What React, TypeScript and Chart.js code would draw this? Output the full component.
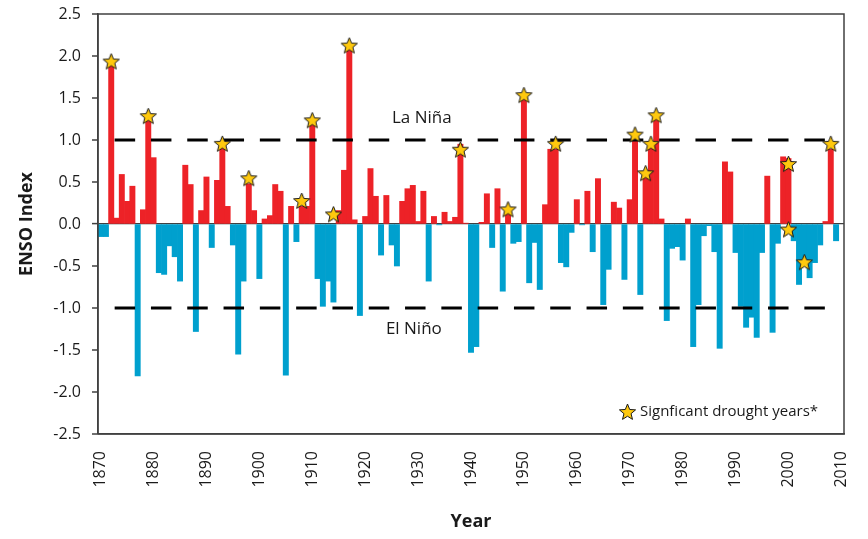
import React, { useEffect, useRef } from "react";
import { Chart, registerables } from "chart.js";

Chart.register(...registerables);

// ---- Data ----
const firstYear = 1870;
const lastYear = 2010;
const years: string[] = Array.from({ length: lastYear - firstYear + 1 }, (_, i) => String(firstYear + i));
const decadeLabels = ["1870", "1880", "1890", "1900", "1910", "1920", "1930", "1940", "1950", "1960", "1970", "1980", "1990", "2000", "2010"];

// ENSO index, 1870 .. 2009
const ensoIndex: number[] = [
  -0.15, -0.15, 1.9, 0.07, 0.59, 0.27, 0.45, -1.81, 0.17, 1.24,
  0.79, -0.58, -0.6, -0.26, -0.39, -0.68, 0.7, 0.47, -1.28, 0.16,
  0.56, -0.28, 0.52, 0.93, 0.21, -0.25, -1.55, -0.68, 0.48, 0.16,
  -0.65, 0.06, 0.1, 0.47, 0.39, -1.8, 0.21, -0.21, 0.21, 0.21,
  1.19, -0.65, -0.98, -0.68, -0.93, 0.16, 0.64, 2.09, 0.05, -1.09,
  0.09, 0.66, 0.33, -0.37, 0.34, -0.25, -0.5, 0.27, 0.42, 0.46,
  0.03, 0.39, -0.68, 0.09, -0.01, 0.14, 0.03, 0.08, 0.95, 0.01,
  -1.53, -1.46, 0.02, 0.36, -0.28, 0.42, -0.8, 0.13, -0.23, -0.21,
  1.49, -0.7, -0.22, -0.78, 0.23, 0.89, 0.89, -0.46, -0.51, -0.1,
  0.29, -0.01, 0.39, -0.33, 0.54, -0.96, -0.54, 0.26, 0.19, -0.66,
  0.29, 1.07, -0.84, 0.61, 0.96, 1.25, 0.06, -1.15, -0.29, -0.27,
  -0.43, 0.06, -1.46, -0.96, -0.14, -0.02, -0.33, -1.48, 0.74, 0.62,
  -0.34, -0.98, -1.23, -1.11, -1.35, -0.34, 0.57, -1.29, -0.23, 0.8,
  0.78, -0.2, -0.72, -0.41, -0.64, -0.46, -0.25, 0.03, 0.89, -0.2,
];

// Significant drought years and where their markers sit
const droughtYears = ["1872", "1879", "1893", "1898", "1908", "1910", "1914", "1917", "1938", "1947", "1950", "1956", "1971", "1973", "1974", "1975", "2000", "2000", "2003", "2008"];
const droughtMarkerY = [1.94, 1.29, 0.96, 0.55, 0.28, 1.24, 0.12, 2.13, 0.89, 0.18, 1.54, 0.96, 1.07, 0.61, 0.96, 1.3, 0.72, -0.06, -0.45, 0.96];

const thresholds = [1, -1];
const thresholdLabels = ["La Niña", "El Niño"];
const legendLabel = "Signficant drought years*";

const RED = "#ED2227";
const BLUE = "#00A0CE";
const FONT = "'Open Sans', 'Noto Sans', sans-serif";

function makeStar(size: number): HTMLCanvasElement {
  const c = document.createElement("canvas");
  c.width = size;
  c.height = size;
  const ctx = c.getContext("2d")!;
  const cx = size / 2;
  const cy = size / 2 + 1;
  const R = size / 2 - 1;
  const r = R * 0.44;
  ctx.beginPath();
  for (let k = 0; k < 10; k++) {
    const ang = -Math.PI / 2 + (k * Math.PI) / 5;
    const rad = k % 2 === 0 ? R : r;
    const px = cx + rad * Math.cos(ang);
    const py = cy + rad * Math.sin(ang);
    if (k === 0) ctx.moveTo(px, py);
    else ctx.lineTo(px, py);
  }
  ctx.closePath();
  ctx.fillStyle = "#FFC90E";
  ctx.fill();
  ctx.lineWidth = 1;
  ctx.strokeStyle = "#1a1a1a";
  ctx.stroke();
  return c;
}

export default function App() {
  const ref = useRef<HTMLCanvasElement | null>(null);

  useEffect(() => {
    document.body.style.margin = "0";
    const canvas = ref.current!;
    const star = makeStar(19);

    const overlay = {
      id: "overlay",
      afterDraw(chart: any) {
        const { ctx, chartArea } = chart;
        const xs = chart.scales.x;
        const ys = chart.scales.y;
        ctx.save();
        // plot frame
        ctx.strokeStyle = "#404040";
        ctx.lineWidth = 1.5;
        ctx.strokeRect(chartArea.left, chartArea.top, chartArea.right - chartArea.left, chartArea.bottom - chartArea.top);
        // La Niña / El Niño
        ctx.fillStyle = "#1a1a1a";
        ctx.font = `17px ${FONT}`;
        ctx.textAlign = "center";
        ctx.textBaseline = "middle";
        ctx.fillText(thresholdLabels[0], xs.getPixelForValue(60.7), ys.getPixelForValue(1.26));
        ctx.fillText(thresholdLabels[1], xs.getPixelForValue(59.2), ys.getPixelForValue(-1.25));
        // legend
        const lx = chartArea.right - 204;
        const ly = chartArea.bottom - 22;
        ctx.drawImage(star, lx - 22, ly - 10);
        ctx.font = `15px ${FONT}`;
        ctx.textAlign = "left";
        ctx.fillText(legendLabel, lx, ly);
        ctx.restore();
      },
    };

    const chart = new Chart(canvas, {
      type: "bar",
      data: {
        labels: years,
        datasets: [
          {
            type: "line",
            label: legendLabel,
            data: droughtYears.map((y, i) => ({ x: y, y: droughtMarkerY[i] })) as any,
            showLine: false,
            pointStyle: star as any,
            pointRadius: 9,
            order: 0,
          } as any,
          ...thresholds.map((t) => ({
            type: "line",
            label: String(t),
            data: ensoIndex.map(() => t),
            borderColor: "#000",
            borderWidth: 3,
            borderDash: [20.5, 15.8],
            borderDashOffset: 22.3,
            pointRadius: 0,
            fill: false,
            order: 1,
          } as any)),
          {
            type: "bar",
            label: "ENSO Index",
            data: ensoIndex,
            backgroundColor: ensoIndex.map((v) => (v >= 0 ? RED : BLUE)),
            barPercentage: 1,
            categoryPercentage: 1,
            borderWidth: 0,
            order: 2,
          },
        ],
      },
      options: {
        responsive: false,
        animation: false,
        devicePixelRatio: 1,
        layout: { padding: { top: 14, right: 24, left: 0, bottom: 0 } },
        plugins: { legend: { display: false }, tooltip: { enabled: false } },
        scales: {
          x: {
            type: "category",
            offset: true,
            grid: { display: false, drawTicks: false },
            border: { display: true, color: "#404040", width: 1.5 },
            ticks: {
              autoSkip: false,
              minRotation: 90,
              maxRotation: 90,
              padding: 17,
              color: "#1a1a1a",
              font: { family: FONT, size: 16 },
              callback: (_v: any, i: number) => (decadeLabels.includes(years[i]) ? years[i] : ""),
            },
            title: {
              display: true,
              text: "Year",
              color: "#1a1a1a",
              font: { family: FONT, size: 18, weight: "bold" },
              padding: { top: 0, bottom: 6 },
            },
            afterFit: (s: any) => {
              s.height = 105;
              s.paddingLeft = 0;
              s.paddingRight = 0;
            },
          },
          y: {
            min: -2.5,
            max: 2.5,
            grid: {
              drawTicks: true,
              tickLength: 6,
              tickColor: "#404040",
              tickWidth: 1.5,
              color: (c: any) => (c.tick && c.tick.value === 0 ? "#404040" : "rgba(0,0,0,0)"),
              lineWidth: (c: any) => (c.tick && c.tick.value === 0 ? 1.2 : 0),
            },
            border: { display: true, color: "#404040", width: 1.5 },
            ticks: {
              stepSize: 0.5,
              padding: 11,
              color: "#1a1a1a",
              font: { family: FONT, size: 16 },
              callback: (v: any) => Number(v).toFixed(1),
            },
            title: {
              display: true,
              text: "ENSO Index",
              color: "#1a1a1a",
              font: { family: FONT, size: 18, weight: "bold" },
              padding: { top: 16, bottom: 0 },
            },
            afterFit: (s: any) => {
              s.width = 98;
              s.paddingTop = 0;
              s.paddingBottom = 0;
            },
          },
        },
      },
      plugins: [overlay],
    } as any);

    return () => chart.destroy();
  }, []);

  return (
    <div style={{ position: "absolute", left: 0, top: 0, width: 868, height: 539, background: "#fff" }}>
      <canvas ref={ref} width={868} height={539} style={{ width: 868, height: 539 }} />
    </div>
  );
}
